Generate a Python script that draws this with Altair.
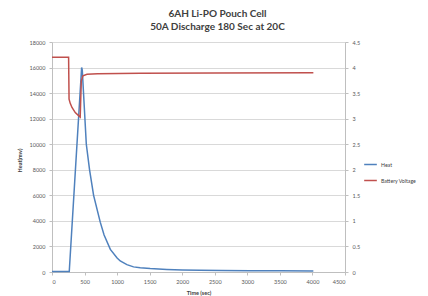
import altair as alt
import pandas as pd

heat_t = [0, 100, 200, 265, 455, 465, 527, 577, 639, 741, 800, 896, 1000, 1048, 1150, 1252, 1355, 1508, 1764, 2000, 2276, 2600, 3043, 3500, 4014]
heat_v = [30, 30, 30, 30, 16000, 15800, 10000, 8000, 6000, 3900, 2900, 1770, 1100, 860, 580, 400, 330, 265, 200, 160, 130, 115, 100, 90, 80]

volt_t = [0, 255, 262, 280, 307, 357, 400, 433, 450, 475, 537, 700, 1355, 2500, 4014]
volt_v = [4.2, 4.2, 3.38, 3.30, 3.22, 3.12, 3.07, 3.03, 3.74, 3.84, 3.87, 3.88, 3.89, 3.895, 3.9]

series = ["Heat", "Battery Voltage"]
colors = ["#4F81BD", "#C0504D"]

heat_df = pd.DataFrame({"t": heat_t, "v": heat_v, "s": series[0]})
volt_df = pd.DataFrame({"t": volt_t, "v": volt_v, "s": series[1]})

color_scale = alt.Scale(domain=series, range=colors)
xenc = alt.X("t:Q", scale=alt.Scale(domain=[0, 4500], nice=False),
             axis=alt.Axis(values=list(range(0, 4501, 500)), title="Time (sec)",
                           grid=False, titlePadding=6, format="d"))

heat = alt.Chart(heat_df).mark_line(strokeWidth=1.5).encode(
    x=xenc,
    y=alt.Y("v:Q", scale=alt.Scale(domain=[0, 18000], nice=False),
            axis=alt.Axis(values=list(range(0, 18001, 2000)), title="Heat(mw)",
                          grid=True, orient="left", titleX=-30, titleY=118, format="d")),
    color=alt.Color("s:N", scale=color_scale,
                    legend=alt.Legend(title=None, orient="none", legendX=311, legendY=115,
                                      symbolType="stroke", symbolSize=160, symbolStrokeWidth=1.5,
                                      labelFontSize=5.2, labelColor="#404040", rowPadding=5,
                                      labelOffset=3, labelFont="Lato", labelLimit=0)),
)

volt = alt.Chart(volt_df).mark_line(strokeWidth=1.5).encode(
    x=xenc,
    y=alt.Y("v:Q", scale=alt.Scale(domain=[0, 4.5], nice=False),
            axis=alt.Axis(values=[i * 0.5 for i in range(10)], title=None, grid=False,
                          orient="right", format="~g")),
    color=alt.Color("s:N", scale=color_scale),
)

chart = alt.layer(heat, volt).resolve_scale(y="independent").properties(
    width=293, height=230,
    autosize=alt.AutoSizeParams(type="none"),
    padding={"left": 44, "top": 34, "right": 75, "bottom": 30},
    title=alt.TitleParams(["6AH Li-PO Pouch Cell", "50A Discharge 180 Sec at 20C"],
                          fontSize=10, font="Lato", fontWeight="bold", color="#404040",
                          anchor="middle", dx=19, offset=8, lineHeight=13),
).configure_view(stroke=None).configure_axis(
    labelFontSize=5.5, labelColor="#595959", labelFont="Lato",
    titleFontSize=5.5, titleFont="Lato", titleFontWeight="bold", titleColor="#404040",
    domainColor="#BFBFBF", tickColor="#BFBFBF", tickSize=3, gridColor="#D9D9D9",
    labelPadding=4,
)

chart.save("out.html", embed_options={"renderer": "svg", "actions": False})
